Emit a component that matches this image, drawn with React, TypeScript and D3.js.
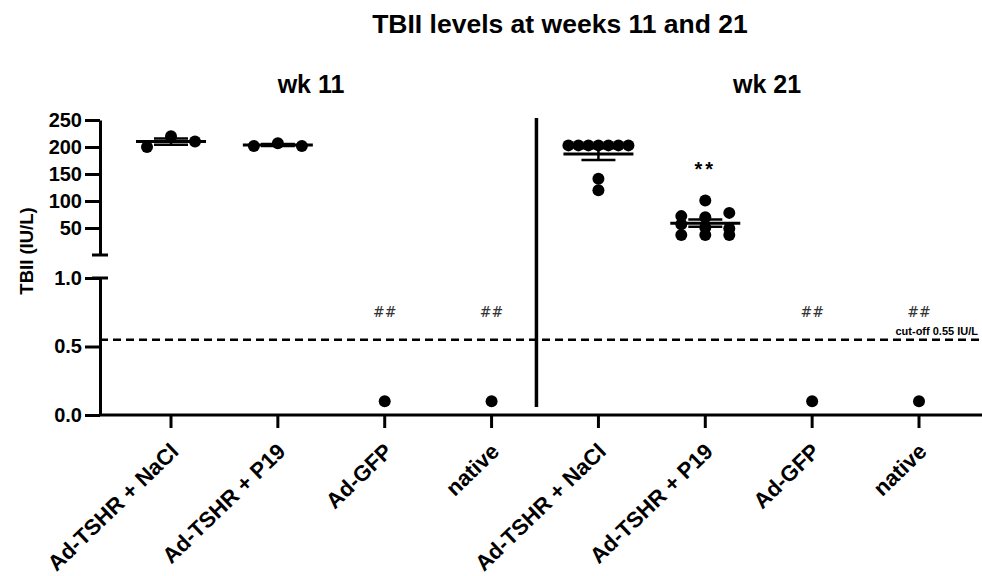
import React, { useEffect, useRef } from 'react';
import * as d3 from 'd3';

// groups on the x axis (repeated for both weeks)
const groups = ['Ad-TSHR + NaCl', 'Ad-TSHR + P19', 'Ad-GFP', 'native'];
const weeks = ['wk 11', 'wk 21'];

// TBII values (IU/L)
const wk11NaCl = [200, 220, 210];
const wk11P19 = [202, 207, 202];
const wk11GFP = [0.1];
const wk11Native = [0.1];
const wk21NaCl = [203, 203, 203, 203, 203, 203, 203, 141, 120];
const wk21P19 = [37, 37, 37, 57, 51, 49, 72, 70, 78, 101];
const wk21GFP = [0.1];
const wk21Native = [0.1];

const upperTicks = [50, 100, 150, 200, 250];
const lowerTicks = [0, 0.5, 1.0];
const cutoff = 0.55;
const cutoffLabel = 'cut-off 0.55 IU/L';
const notes = ['', '', '##', '##', '', '**', '##', '##'];

const FONT = '"Liberation Sans", Arial, Helvetica, sans-serif';

export default function App() {
  const ref = useRef<SVGSVGElement>(null);

  useEffect(() => {
    const svg = d3.select(ref.current);
    svg.selectAll('*').remove();

    const W = 982, H = 576;
    const left = 100, bottom = 415;

    const yUp = d3.scaleLinear().domain([0, 250]).range([255, 120]);
    const yLow = d3.scaleLinear().domain([0, 1]).range([bottom, 278]);
    const x = d3.scaleLinear().domain([0, 7]).range([171, 919]);
    const yOf = (v: number) => (v > 1 ? yUp(v) : yLow(v));

    const data = [wk11NaCl, wk11P19, wk11GFP, wk11Native, wk21NaCl, wk21P19, wk21GFP, wk21Native];
    const labels = [...groups, ...groups];

    svg.attr('width', W).attr('height', H).style('font-family', FONT);

    // titles
    svg.append('text').attr('x', 560).attr('y', 33).attr('text-anchor', 'middle')
      .attr('font-size', 26.5).attr('font-weight', 'bold').text('TBII levels at weeks 11 and 21');
    svg.append('text').attr('x', 311).attr('y', 93).attr('text-anchor', 'middle')
      .attr('font-size', 25).attr('font-weight', 'bold').text(weeks[0]);
    svg.append('text').attr('x', 767).attr('y', 93).attr('text-anchor', 'middle')
      .attr('font-size', 25).attr('font-weight', 'bold').text(weeks[1]);

    // y axis title
    svg.append('text').attr('transform', 'translate(33,251) rotate(-90)').attr('text-anchor', 'middle')
      .attr('font-size', 18.5).attr('font-weight', 'bold').text('TBII (IU/L)');

    // y axes, broken
    const styleAxis = (g: any) => {
      g.selectAll('path,line').attr('stroke', '#000').attr('stroke-width', 3);
      g.selectAll('text').attr('font-size', 20).attr('font-weight', 'bold').attr('font-family', FONT).attr('fill', '#000');
    };
    svg.append('g').attr('transform', `translate(${left},0)`)
      .call(d3.axisLeft(yUp).tickValues(upperTicks).tickSize(15).tickSizeOuter(0).tickPadding(3).tickFormat(d3.format('d')))
      .call(styleAxis);
    svg.append('g').attr('transform', `translate(${left},0)`)
      .call(d3.axisLeft(yLow).tickValues(lowerTicks).tickSize(15).tickSizeOuter(0).tickPadding(3).tickFormat(d3.format('.1f')))
      .call(styleAxis);
    // break caps
    [yUp(0), yLow(1)].forEach(yy => {
      svg.append('line').attr('x1', left - 8).attr('x2', left + 8).attr('y1', yy).attr('y2', yy)
        .attr('stroke', '#000').attr('stroke-width', 3);
    });

    // x axis
    svg.append('line').attr('x1', left - 1).attr('x2', W).attr('y1', bottom).attr('y2', bottom)
      .attr('stroke', '#000').attr('stroke-width', 3);
    labels.forEach((lab, i) => {
      svg.append('line').attr('x1', x(i)).attr('x2', x(i)).attr('y1', bottom).attr('y2', bottom + 13)
        .attr('stroke', '#000').attr('stroke-width', 3);
      svg.append('text').attr('transform', `translate(${x(i) + 9},453) rotate(-44)`)
        .attr('text-anchor', 'end').attr('font-size', 22).attr('font-weight', 'bold').text(lab);
    });

    // divider between weeks
    svg.append('line').attr('x1', x(3.42)).attr('x2', x(3.42)).attr('y1', 118).attr('y2', 407)
      .attr('stroke', '#000').attr('stroke-width', 3.5);

    // cut-off line
    svg.append('line').attr('x1', left).attr('x2', W).attr('y1', yLow(cutoff)).attr('y2', yLow(cutoff))
      .attr('stroke', '#000').attr('stroke-width', 2.5).attr('stroke-dasharray', '8,5');
    svg.append('text').attr('x', 978).attr('y', yLow(cutoff) - 5).attr('text-anchor', 'end')
      .attr('font-size', 11).attr('font-weight', 'bold').text(cutoffLabel);

    // scatter: points grouped into rows, spread sideways within a row
    data.forEach((vals, i) => {
      const cx = x(i);
      const pts = vals.map((v, k) => ({ v, k, y: yOf(v), dx: 0 }));
      const order = [...pts].sort((a, b) => b.y - a.y);
      const rows: any[][] = [];
      order.forEach((p, j) => {
        if (j === 0 || order[j - 1].y - p.y > 6) rows.push([p]);
        else rows[rows.length - 1].push(p);
      });
      rows.forEach(row => {
        row.sort((a, b) => a.k - b.k);
        const n = row.length;
        const step = n > 1 ? Math.min(24, 60 / (n - 1)) : 0;
        row.forEach((p, j) => { p.dx = (j - (n - 1) / 2) * step; });
      });

      svg.append('g').selectAll('circle').data(pts).enter().append('circle')
        .attr('cx', d => cx + d.dx).attr('cy', d => d.y).attr('r', 6).attr('fill', '#000');

      if (vals.length > 1) {
        const m = d3.mean(vals) as number;
        const sem = (d3.deviation(vals) as number) / Math.sqrt(vals.length);
        const g = svg.append('g').attr('stroke', '#000');
        g.append('line').attr('x1', cx - 35).attr('x2', cx + 35).attr('y1', yUp(m)).attr('y2', yUp(m)).attr('stroke-width', 3);
        g.append('line').attr('x1', cx).attr('x2', cx).attr('y1', yUp(m - sem)).attr('y2', yUp(m + sem)).attr('stroke-width', 2.5);
        [m - sem, m + sem].forEach(e => {
          g.append('line').attr('x1', cx - 17).attr('x2', cx + 17).attr('y1', yUp(e)).attr('y2', yUp(e)).attr('stroke-width', 2.5);
        });
      }

      // significance marks
      const note = notes[i];
      if (note === '##') {
        svg.append('text').attr('x', cx).attr('y', 317).attr('text-anchor', 'middle')
          .attr('font-size', 14).attr('fill', '#333').attr('font-family', '"DejaVu Serif", serif').text(note);
      } else if (note === '**') {
        svg.append('text').attr('x', cx).attr('y', 176).attr('text-anchor', 'middle')
          .attr('font-size', 20).attr('font-weight', 'bold').attr('letter-spacing', 3).text(note);
      }
    });
  }, []);

  return <svg ref={ref} style={{ position: 'absolute', left: 0, top: 0 }}></svg>;
}
